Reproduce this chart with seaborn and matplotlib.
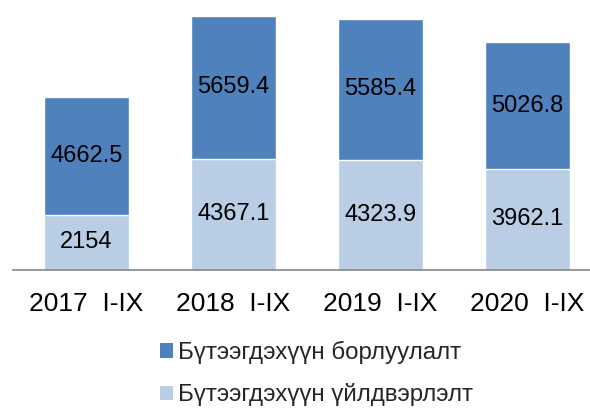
import matplotlib
matplotlib.use("Agg")
import matplotlib.pyplot as plt
import seaborn as sns
import pandas as pd
import numpy as np
from matplotlib.patches import Patch

categories = ["2017  I-IX", "2018  I-IX", "2019  I-IX", "2020  I-IX"]
production = [2154, 4367.1, 4323.9, 3962.1]
sales = [4662.5, 5659.4, 5585.4, 5026.8]
production_labels = ["2154", "4367.1", "4323.9", "3962.1"]
sales_labels = ["4662.5", "5659.4", "5585.4", "5026.8"]
series_names = ["Бүтээгдэхүүн борлуулалт", "Бүтээгдэхүүн үйлдвэрлэлт"]

dark = "#4F81BD"
light = "#B9CDE5"

sns.set_theme(style="white")
plt.rcParams["font.family"] = ["Liberation Sans", "DejaVu Sans"]

df = pd.DataFrame({"cat": categories, "prod": production, "sales": sales})
df["total"] = df["prod"] + df["sales"]

fig = plt.figure(figsize=(5.9, 4.08), dpi=100)
ax = fig.add_axes([13 / 590, 1 - 269.5 / 408, 577 / 590, 259.5 / 408])

sns.barplot(data=df, x="cat", y="total", color=dark, saturation=1, width=0.58, ax=ax)
sns.barplot(data=df, x="cat", y="prod", color=light, saturation=1, width=0.58, ax=ax)

for i in range(len(categories)):
    ax.text(i, production[i] / 2, production_labels[i], ha="center", va="center",
            fontsize=17, color="black")
    ax.text(i, production[i] + sales[i] / 2, sales_labels[i], ha="center", va="center",
            fontsize=17, color="black")

ax.set_xlim(-0.5, 3.425)
ax.set_ylim(0, 10250)
ax.set_xlabel("")
ax.set_ylabel("")
ax.set_yticks([])
for s in ["left", "right", "top"]:
    ax.spines[s].set_visible(False)
ax.spines["bottom"].set_color("#868686")
ax.spines["bottom"].set_linewidth(1.2)
ax.tick_params(axis="x", length=0, pad=16, labelsize=19, labelcolor="black")

handles = [Patch(facecolor=dark, edgecolor="none"), Patch(facecolor=light, edgecolor="none")]
fig.legend(handles, series_names, loc="upper left", bbox_to_anchor=(160 / 590, 1 - 341 / 408),
           frameon=False, fontsize=17.4, handlelength=0.55, handleheight=0.55,
           handletextpad=0.2, labelspacing=0.8, borderpad=0, borderaxespad=0)

fig.savefig("out.png", dpi=100)
